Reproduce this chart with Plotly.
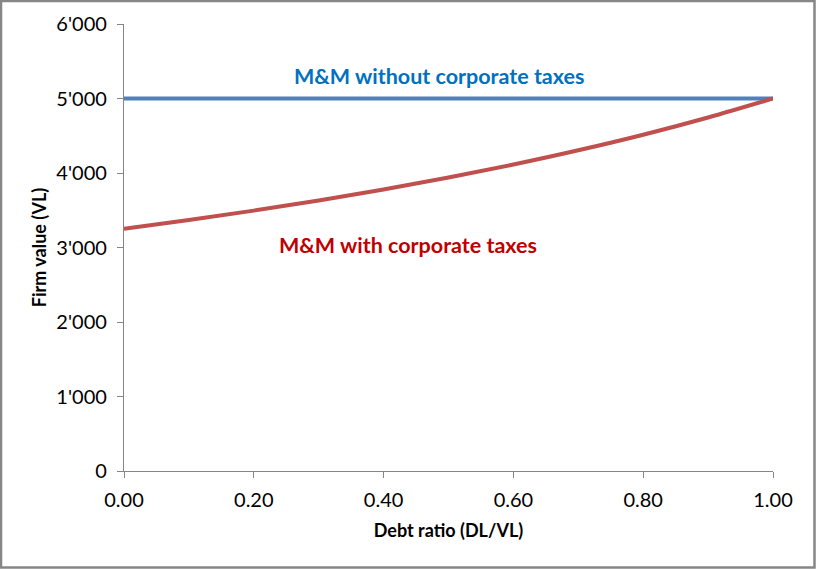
import plotly.graph_objects as go

# Data
debt_ratio = [0.0, 0.1, 0.2, 0.3, 0.4, 0.5, 0.6, 0.7, 0.8, 0.9, 1.0]
value_no_tax = [5000, 5000, 5000, 5000, 5000, 5000, 5000, 5000, 5000, 5000, 5000]
value_with_tax = [3250, 3368, 3495, 3631, 3779, 3939, 4114, 4305, 4514, 4745, 5000]

x_tickvals = [0.0, 0.2, 0.4, 0.6, 0.8, 1.0]
x_ticktext = ["0.00", "0.20", "0.40", "0.60", "0.80", "1.00"]
y_tickvals = [0, 1000, 2000, 3000, 4000, 5000, 6000]
y_ticktext = ["0", "1'000", "2'000", "3'000", "4'000", "5'000", "6'000"]

label_no_tax = "M&M without corporate taxes"
label_with_tax = "M&M with corporate taxes"

FONT = "Lato"
W, H = 816, 569
ml, mr, mt, mb = 124, 43, 24, 98
pw, ph = W - ml - mr, H - mt - mb

fig = go.Figure()
fig.add_trace(go.Scatter(x=debt_ratio, y=value_no_tax, mode="lines",
                         line=dict(color="#4F81BD", width=4), showlegend=False,
                         hoverinfo="skip"))
fig.add_trace(go.Scatter(x=debt_ratio, y=value_with_tax, mode="lines",
                         line=dict(color="#C0504D", width=4, shape="spline"),
                         showlegend=False, hoverinfo="skip"))

fig.add_annotation(x=0.485, y=5300, text="<b>" + label_no_tax + "</b>", showarrow=False,
                   font=dict(family=FONT, size=21.5, color="#0070C0"))
fig.add_annotation(x=0.437, y=3040, text="<b>" + label_with_tax + "</b>", showarrow=False,
                   font=dict(family=FONT, size=21.5, color="#C00000"))

# outer border
fig.add_shape(type="rect", xref="paper", yref="paper",
              x0=(1 - ml) / pw, x1=(W - 1.5 - ml) / pw,
              y0=-(mb - 1.5) / ph, y1=(ph + mt - 1) / ph,
              line=dict(color="#868686", width=2.5), fillcolor="rgba(0,0,0,0)", layer="below")

fig.update_layout(
    width=W, height=H,
    margin=dict(l=ml, r=mr, t=mt, b=mb),
    plot_bgcolor="white", paper_bgcolor="white",
    font=dict(family=FONT, color="black"),
    xaxis=dict(range=[0, 1], tickvals=x_tickvals, ticktext=x_ticktext,
               showgrid=False, zeroline=False, showline=True, linecolor="#868686",
               linewidth=1.3, ticks="outside", ticklen=6, tickcolor="#868686",
               tickfont=dict(family=FONT, size=20), ticklabelstandoff=5,
               title=dict(text="<b>Debt ratio (DL/VL)</b>", font=dict(family=FONT, size=18),
                          standoff=14)),
    yaxis=dict(range=[0, 6000], tickvals=y_tickvals, ticktext=y_ticktext,
               showgrid=False, zeroline=False, showline=True, linecolor="#868686",
               linewidth=1.3, ticks="outside", ticklen=6, tickcolor="#868686",
               tickfont=dict(family=FONT, size=20), ticklabelstandoff=6,
               title=dict(text="<b>Firm value (VL)</b>", font=dict(family=FONT, size=18),
                          standoff=5)),
)

fig.write_html("out.html", config={"displayModeBar": False},
               post_script="document.body.style.margin='0';document.body.style.overflow='hidden';")
